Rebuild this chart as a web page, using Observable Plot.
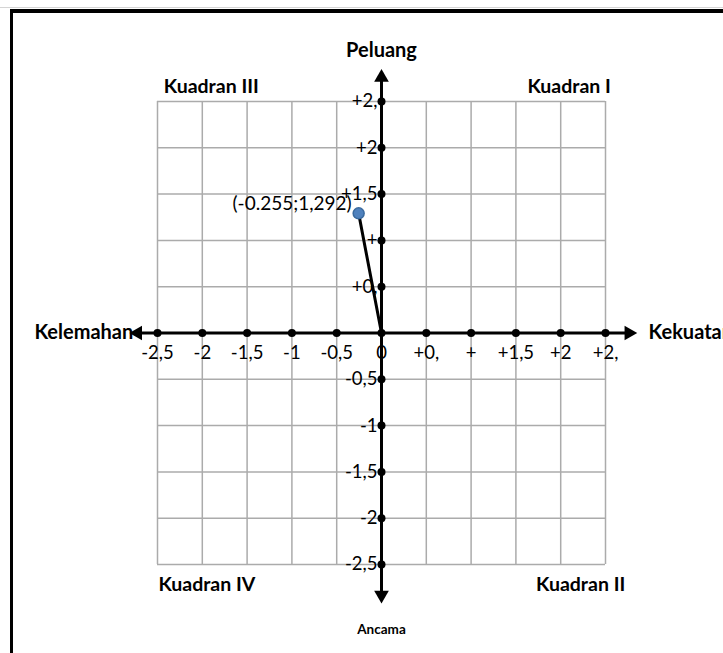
<!DOCTYPE html>
<html><head><meta charset="utf-8">
<script src="https://cdn.jsdelivr.net/npm/d3@7"></script>
<script src="https://cdn.jsdelivr.net/npm/@observablehq/plot@0.6"></script>
<style>
html,body{margin:0;padding:0;background:#fff;overflow:hidden;}
#wrap{position:relative;width:723px;height:653px;overflow:hidden;}
#topline{position:absolute;left:0;top:7px;width:723px;height:0;border-top:1px solid #d4d4d4;}
#frame{position:absolute;left:10px;top:9px;width:800px;height:800px;border-left:3px solid #000;border-top:4px solid #000;}
#chart{position:absolute;left:0;top:0;}
</style></head><body>
<div id="wrap"><div id="topline"></div><div id="frame"></div><div id="chart"></div></div>
<script>
// ---- data ----
const tickValues = [-2.5, -2, -1.5, -1, -0.5, 0, 0.5, 1, 1.5, 2, 2.5];
const xTickLabels = ["-2,5", "-2", "-1,5", "-1", "-0,5", "0", "+0,", "+", "+1,5", "+2", "+2,"];
const yTickLabels = ["-2,5", "-2", "-1,5", "-1", "-0,5", "", "+0,", "+", "+1,5", "+2", "+2,"];
const pointX = [-0.255];
const pointY = [1.292];
const pointLabels = ["(-0.255;1,292)"];
const quadrantNames = ["Kuadran III", "Kuadran I", "Kuadran IV", "Kuadran II"];
const axisNames = ["Peluang", "Kekuatan", "Ancama", "Kelemahan"];

// ---- derived tables ----
const xTicks = tickValues.map((v, i) => ({v, label: xTickLabels[i]}));
const yTicks = tickValues.map((v, i) => ({v, label: yTickLabels[i]}));
const pts = pointX.map((x, i) => ({x, y: pointY[i], label: pointLabels[i]}));
const lo = tickValues[0], hi = tickValues[tickValues.length - 1];

const quadLeft = [
  {name: quadrantNames[0], x: -2.43, y: 2.66},
  {name: quadrantNames[2], x: -2.49, y: -2.72}
];
const quadRight = [
  {name: quadrantNames[1], x: 2.56, y: 2.66},
  {name: quadrantNames[3], x: 2.72, y: -2.72}
];
const heads = [
  {x: 0, y: 2.76, rot: 0},
  {x: 2.76, y: 0, rot: 90},
  {x: 0, y: -2.83, rot: 180},
  {x: -2.72, y: 0, rot: 270}
];

const font = "Lato, 'Open Sans', sans-serif";

const chart = Plot.plot({
  width: 723,
  height: 653,
  margin: 0,
  style: {background: "transparent", fontFamily: font, overflow: "visible", color: "#000"},
  x: {domain: [lo, hi], range: [157, 605], axis: null},
  y: {domain: [lo, hi], range: [564, 101], axis: null},
  marks: [
    Plot.ruleX(tickValues, {x: d => d, y1: lo, y2: hi, stroke: "#ababab", strokeWidth: 1.5}),
    Plot.ruleY(tickValues, {y: d => d, x1: lo, x2: hi, stroke: "#ababab", strokeWidth: 1.5}),
    Plot.ruleY([0], {x1: -2.72, x2: 2.76, stroke: "#000", strokeWidth: 3}),
    Plot.ruleX([0], {y1: -2.83, y2: 2.76, stroke: "#000", strokeWidth: 3}),
    Plot.dot(heads, {x: "x", y: "y", rotate: "rot", symbol: "triangle2", r: 7, fill: "#000"}),
    Plot.dot(xTicks, {x: "v", y: 0, r: 4, fill: "#000"}),
    Plot.dot(yTicks.filter(d => d.v !== 0), {x: 0, y: "v", r: 4, fill: "#000"}),
    Plot.text(xTicks, {x: "v", y: 0, text: "label", dy: 20, fontSize: 18.5, fill: "#000"}),
    Plot.text(yTicks, {x: 0, y: "v", text: "label", dx: -4, textAnchor: "end", fontSize: 18.5, fill: "#000"}),
    Plot.line([{x: 0, y: 0}, ...pts], {x: "x", y: "y", stroke: "#000", strokeWidth: 3}),
    Plot.dot(pts, {x: "x", y: "y", r: 5.5, fill: "#4f81bd", stroke: "#3a6a9e", strokeWidth: 1.5}),
    Plot.text(pts, {x: "x", y: "y", text: "label", dx: -7, dy: -9, textAnchor: "end", fontSize: 19, fill: "#000"}),
    Plot.text(quadLeft, {x: "x", y: "y", text: "name", textAnchor: "start", fontSize: 19.5, fontWeight: "bold", fill: "#000"}),
    Plot.text(quadRight, {x: "x", y: "y", text: "name", textAnchor: "end", fontSize: 19.5, fontWeight: "bold", fill: "#000"}),
    Plot.text([axisNames[0]], {x: 0, y: 3.05, text: d => d, fontSize: 20, fontWeight: "bold", fill: "#000"}),
    Plot.text([axisNames[1]], {x: 2.98, y: 0, text: d => d, textAnchor: "start", fontSize: 20, fontWeight: "bold", fill: "#000"}),
    Plot.text([axisNames[2]], {x: 0, y: -3.2, text: d => d, fontSize: 13.5, fontWeight: "bold", fill: "#000"}),
    Plot.text([axisNames[3]], {x: -2.77, y: 0, text: d => d, textAnchor: "end", fontSize: 20, fontWeight: "bold", fill: "#000"})
  ]
});
document.getElementById("chart").appendChild(chart);
</script>
</body></html>
